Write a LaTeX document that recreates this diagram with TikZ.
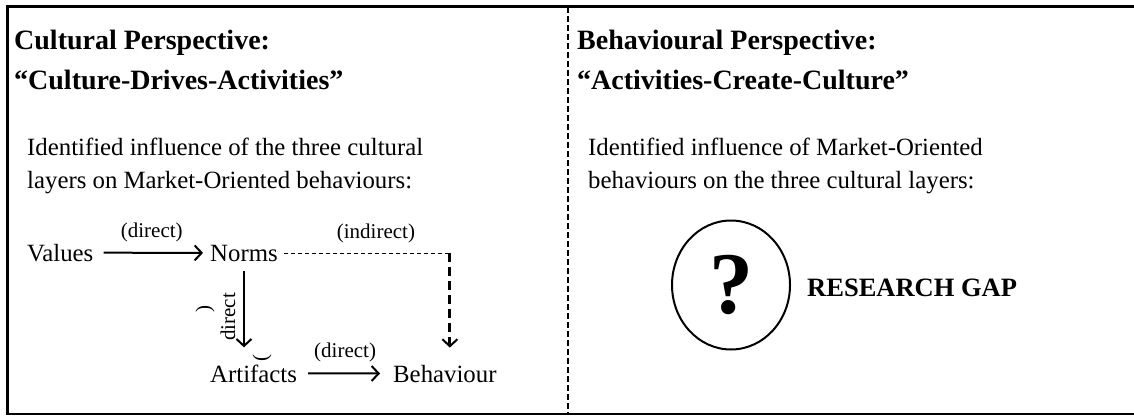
\documentclass[tikz,border=0pt]{standalone}
\usepackage{fontspec}
\setmainfont{Liberation Serif}
\usetikzlibrary{arrows.meta,shapes.geometric}

\begin{document}
\begin{tikzpicture}[x=1pt, y=-1pt,
  every node/.style = {inner sep=0pt, anchor=base west},
  heading/.style = {font=\fontsize{28}{34}\selectfont\bfseries},
  bodytext/.style = {font=\fontsize{24.8}{30}\selectfont},
  edgelabel/.style = {font=\fontsize{21}{25}\selectfont},
  link/.style = {line width=2pt,
    -{Straight Barb[length=7pt, width=15pt, line width=2pt]}}]
  \useasboundingbox (0,0) rectangle (1134,417);
  % frame and divider
  \draw[line width=3pt] (1134,7) -- (5.5,7);
  \draw[line width=3pt] (7,7) -- (7,415);
  \draw[line width=2pt] (6,414) -- (1134,414);
  \draw[line width=2pt, dash pattern=on 6pt off 3pt] (568,7) -- (568,414);

  % left column
  \node (cultHead) [heading] at (14,50) {Cultural Perspective:};
  \node (cultMotto) [heading] at (14,90) {“Culture-Drives-Activities”};
  \node (cultText) [bodytext] at (27,155) {Identified influence of the three cultural};
  \node (cultTextB) [bodytext] at (27,188) {layers on Market-Oriented behaviours:};

  \node (values) [bodytext] at (27,261) {Values};
  \node (norms) [bodytext] at (210,261) {Norms};
  \node (artifacts) [bodytext] at (210,382) {Artifacts};
  \node (behaviour) [bodytext] at (393,382) {Behaviour};

  \draw[link, shorten <=10pt, shorten >=7pt] (values) -- (norms)
    node[edgelabel, midway, anchor=base, yshift=15pt] {(direct)};
  \draw[link, shorten <=10pt, shorten >=17pt] (norms.south) -- (norms.south |- artifacts.north);
  \node (directV) [edgelabel, rotate=90, anchor=center] at (228,317) {direct};
  \draw[link, shorten <=11pt, shorten >=13pt] (artifacts) -- (behaviour)
    node[edgelabel, midway, anchor=base, yshift=15.5pt] {(direct)};
  \coordinate (bend) at ([xshift=5pt]norms.east -| behaviour.north);
  \draw[line width=1pt, dash pattern=on 4pt off 3pt, shorten <=6pt] (norms) -- (bend)
    node[edgelabel, pos=0.57, anchor=base, yshift=15pt] {(indirect)};
  \draw[line width=3pt, dash pattern=on 9pt off 5pt, shorten >=17pt,
    -{Straight Barb[length=7pt, width=15pt, line width=2pt]}] (bend) -- (bend |- behaviour.north);
  \node (rparen) [edgelabel, rotate=90, anchor=center] at (205,309) {)};
  \node (lparen) [edgelabel, rotate=90, anchor=center] at (262,358) {(};

  % right column
  \node (behavHead) [heading] at (577,50) {Behavioural Perspective:};
  \node (behavMotto) [heading] at (577,90) {“Activities-Create-Culture”};
  \node (behavText) [bodytext] at (588,155) {Identified influence of Market-Oriented};
  \node (behavTextB) [bodytext] at (588,188) {behaviours on the three cultural layers:};

  \node (query) [draw, ellipse, line width=2pt, anchor=center,
    minimum width=118pt, minimum height=129pt,
    font=\fontsize{88}{88}\selectfont\bfseries] at (731,285) {?};
  \node (gapLabel) [font=\fontsize{26.5}{30}\selectfont\bfseries] at (807,296) {RESEARCH GAP};
\end{tikzpicture}
\end{document}
